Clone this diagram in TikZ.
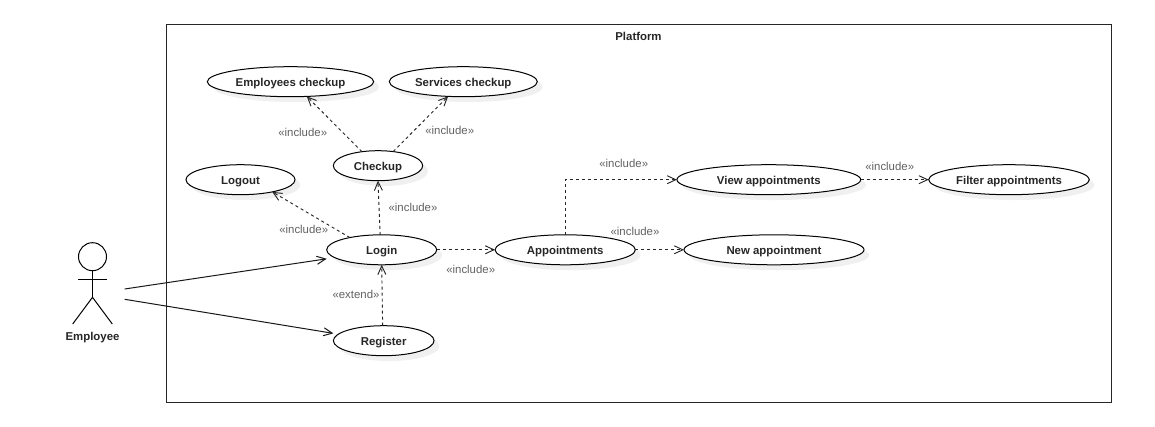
\documentclass[tikz,border=0pt]{standalone}
\usepackage{fontspec}
\setmainfont{Liberation Sans}
\usetikzlibrary{shapes.geometric,shadows,arrows.meta}
\tikzset{
  px/.style={line width=.75pt},
  usecase/.style={ellipse,draw=black,px,fill=white,inner sep=0pt,outer sep=0pt,minimum height=22.5pt,
    font=\fontsize{8.55pt}{10pt}\selectfont\bfseries,text=black!85,text height=8pt,text depth=1.5pt,
    drop shadow={shadow xshift=4pt,shadow yshift=-4pt,fill=black!6,opacity=1}},
  frame/.style={rectangle,draw=black!85,px,inner sep=0pt,outer sep=0pt},
  title/.style={font=\fontsize{8.55pt}{10pt}\selectfont\bfseries,text=black!85,text height=8pt,text depth=1.5pt,inner sep=0pt},
  stereo/.style={font=\fontsize{8.55pt}{10pt}\selectfont,text=black!62,inner sep=0pt},
  assoc/.style={draw=black!90,px,-{Straight Barb[length=6.5pt,width=6pt,line width=.75pt]}},
  dep/.style={draw=black!85,line width=.7pt,dash pattern=on 2.25pt off 2.25pt,-{Straight Barb[length=6.5pt,width=6pt,line width=.7pt]}},
  stick/.style={draw=black,px},
}
\begin{document}
\begin{tikzpicture}[x=.75pt,y=-.75pt]
\useasboundingbox (0,0) rectangle (1155,427);
\node[frame,minimum width=708.75pt,minimum height=283.1pt] (platform) at (638.5,213.5) {};
\node[title] (ptitle) at (638.5,36) {Platform};
% actor
\node[circle,stick,minimum size=21pt,inner sep=0pt,outer sep=0pt] (head) at (92.5,256.7) {};
\coordinate (hip) at (92.5,297.3);
\coordinate (armL) at (78.3,280);
\coordinate (armR) at (106.7,280);
\coordinate (legL) at (72.7,324);
\coordinate (legR) at (112.3,324);
\draw[stick] (head.south) -- (hip);
\draw[stick] (armL) -- (armR);
\draw[stick] (legL) -- (hip) -- (legR);
\node[title] (actorname) at (92.5,336) {Employee};
\coordinate (actorA) at (124.7,289);
\coordinate (actorB) at (124.7,299.3);
% use cases
\node[usecase,minimum width=124.8pt] (emp) at (290.5,81.7) {Employees checkup};
\node[usecase,minimum width=111pt] (svc) at (463.3,81.7) {Services checkup};
\node[usecase,minimum width=67pt] (chk) at (378,165.7) {Checkup};
\node[usecase,minimum width=81.8pt] (out) at (240.5,179.7) {Logout};
\node[usecase,minimum width=82.5pt] (log) at (381.7,249.8) {Login};
\node[usecase,minimum width=75.5pt] (reg) at (383.7,340.7) {Register};
\node[usecase,minimum width=105.2pt] (app) at (565.2,249.8) {Appointments};
\node[usecase,minimum width=137.8pt] (view) at (768.8,179.7) {View appointments};
\node[usecase,minimum width=135pt] (new) at (774,249.8) {New appointment};
\node[usecase,minimum width=120.5pt] (filt) at (1009,179.7) {Filter appointments};
% free ends of the actor's associations
\coordinate (logIn) at ([yshift=-6.75pt]log.west);
\coordinate (regIn) at ([yshift=5.5pt]reg.west);
% connectors
\draw[assoc] (actorA) -- (logIn);
\draw[assoc] (actorB) -- (regIn);
\draw[dep] (chk.139) -- (emp.-42);
\draw[dep] (chk.43) -- (svc.224);
\draw[dep] (log.96) -- (chk.-90);
\draw[dep] (log.159) -- (out.-21);
\draw[dep] (reg.94) -- (log.-90);
\draw[dep] (log.east) -- (app.west);
\draw[dep] (app.north) |- (view.west);
\draw[dep] (app.east) -- (new.west);
\draw[dep] (view.east) -- (filt.west);
% labels
\node[stereo] (l1) at (302.7,132.3) {«include»};
\node[stereo] (l2) at (449.7,130) {«include»};
\node[stereo] (l3) at (413,207.3) {«include»};
\node[stereo] (l4) at (303.7,229.3) {«include»};
\node[stereo] (l5) at (356,294.3) {«extend»};
\node[stereo] (l6) at (470.7,269.3) {«include»};
\node[stereo] (l7) at (623.7,163.3) {«include»};
\node[stereo] (l8) at (635,231) {«include»};
\node[stereo] (l9) at (889.7,166) {«include»};
\end{tikzpicture}
\end{document}
